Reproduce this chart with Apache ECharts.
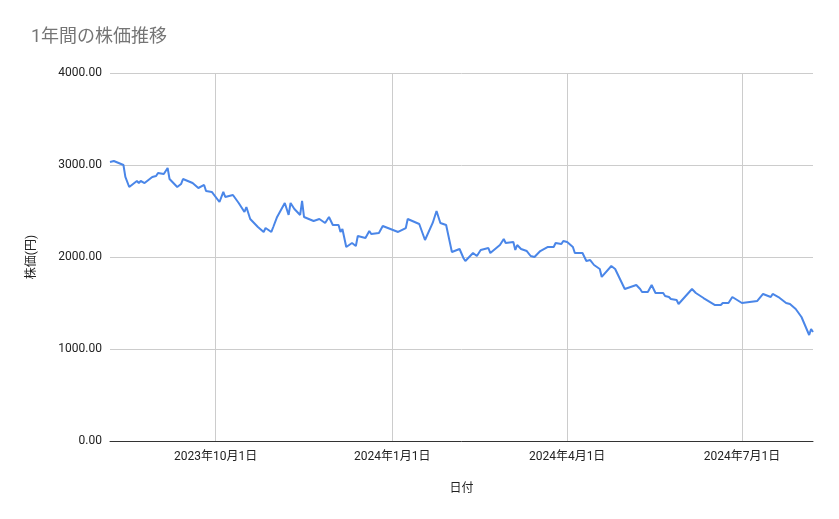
<!DOCTYPE html>
<html>
<head>
<meta charset="utf-8">
<script src="https://cdn.jsdelivr.net/npm/echarts@6/dist/echarts.min.js"></script>
<style>
html, body { margin: 0; padding: 0; background: #fff; }
#chart { width: 839px; height: 519px; }
</style>
</head>
<body>
<div id="chart"></div>
<script>
// 日付と終値
const dates = [
    '2023-08-07','2023-08-09','2023-08-14','2023-08-15','2023-08-17','2023-08-21','2023-08-22','2023-08-23','2023-08-25','2023-08-29',
    '2023-08-31','2023-09-01','2023-09-04','2023-09-06','2023-09-07','2023-09-11','2023-09-13','2023-09-14','2023-09-19','2023-09-22',
    '2023-09-25','2023-09-26','2023-09-29','2023-09-30','2023-10-03','2023-10-05','2023-10-06','2023-10-10','2023-10-13','2023-10-16',
    '2023-10-17','2023-10-19','2023-10-23','2023-10-26','2023-10-27','2023-10-30','2023-10-31','2023-11-02','2023-11-06','2023-11-08',
    '2023-11-09','2023-11-11','2023-11-14','2023-11-15','2023-11-16','2023-11-21','2023-11-24','2023-11-27','2023-11-29','2023-12-01',
    '2023-12-04','2023-12-05','2023-12-06','2023-12-08','2023-12-11','2023-12-13','2023-12-14','2023-12-18','2023-12-20','2023-12-21',
    '2023-12-25','2023-12-27','2024-01-04','2024-01-08','2024-01-09','2024-01-15','2024-01-18','2024-01-22','2024-01-24','2024-01-26',
    '2024-01-29','2024-01-30','2024-02-01','2024-02-05','2024-02-07','2024-02-08','2024-02-12','2024-02-14','2024-02-16','2024-02-20',
    '2024-02-21','2024-02-26','2024-02-28','2024-02-29','2024-03-04','2024-03-05','2024-03-06','2024-03-08','2024-03-11','2024-03-13',
    '2024-03-15','2024-03-18','2024-03-22','2024-03-25','2024-03-26','2024-03-29','2024-03-30','2024-04-01','2024-04-04','2024-04-05',
    '2024-04-09','2024-04-11','2024-04-13','2024-04-15','2024-04-18','2024-04-19','2024-04-24','2024-04-26','2024-05-01','2024-05-07',
    '2024-05-09','2024-05-10','2024-05-13','2024-05-15','2024-05-17','2024-05-21','2024-05-22','2024-05-24','2024-05-25','2024-05-28',
    '2024-05-29','2024-06-05','2024-06-07','2024-06-11','2024-06-17','2024-06-20','2024-06-21','2024-06-24','2024-06-26','2024-07-01',
    '2024-07-05','2024-07-09','2024-07-10','2024-07-12','2024-07-16','2024-07-17','2024-07-20','2024-07-24','2024-07-26','2024-07-29',
    '2024-07-30','2024-08-01','2024-08-05','2024-08-06','2024-08-07'
];
const prices = [
    3033,3043,3000,2870,2761,2826,2804,2826,2804,2870,
    2880,2913,2902,2967,2848,2761,2793,2848,2804,2750,
    2783,2717,2707,2696,2598,2707,2652,2674,2587,2489,
    2543,2413,2326,2272,2315,2272,2326,2435,2587,2457,
    2587,2522,2457,2609,2435,2391,2413,2370,2435,2348,
    2348,2272,2304,2109,2152,2120,2228,2207,2283,2250,
    2261,2337,2272,2315,2413,2359,2185,2370,2500,2370,
    2348,2359,2054,2087,1989,1957,2043,2011,2076,2098,
    2043,2130,2196,2152,2163,2076,2130,2087,2065,2011,
    2000,2065,2109,2109,2152,2141,2174,2163,2109,2043,
    2043,1957,1967,1913,1870,1783,1902,1870,1652,1696,
    1652,1620,1620,1696,1609,1609,1576,1565,1543,1533,
    1489,1652,1609,1554,1478,1478,1500,1500,1565,1500,
    1511,1522,1511,1598,1565,1598,1565,1500,1489,1435,
    1424,1348,1152,1217,1185
];
// 横軸の目盛り
const xTicks = ['2023-10-01','2024-01-01','2024-04-01','2024-07-01'];
const xMin = '2023-08-07';
const xMax = '2024-08-07';

const FONT = 'Roboto, "Noto Sans CJK JP", sans-serif';
const toMs = d => +new Date(d + 'T00:00:00');
const fmtDate = v => {
    const d = new Date(v);
    return d.getFullYear() + '年' + (d.getMonth() + 1) + '月' + d.getDate() + '日';
};

let chart = echarts.init(document.getElementById('chart'));
chart.setOption({
    animation: false,
    title: {
        text: '1年間の株価推移',
        left: 26, top: 24,
        textStyle: { fontFamily: FONT, fontSize: 18, fontWeight: 'normal', color: '#757575' }
    },
    grid: { left: 110, right: 26, top: 73, bottom: 78 },
    xAxis: {
        type: 'value',
        min: toMs(xMin),
        max: toMs(xMax),
        name: '日付',
        nameLocation: 'middle',
        nameGap: 42,
        nameTextStyle: { fontFamily: FONT, fontSize: 12, color: '#222' },
        axisLine: { show: true, onZero: false, lineStyle: { color: '#333' } },
        axisTick: { show: false },
        splitLine: { show: false },
        axisLabel: { show: false }
    },
    yAxis: {
        type: 'value',
        min: 0, max: 4000, interval: 1000,
        name: '株価(円)',
        nameLocation: 'middle',
        nameGap: 72,
        nameTextStyle: { fontFamily: FONT, fontSize: 12, color: '#222' },
        axisLine: { show: false },
        axisTick: { show: false },
        splitLine: { lineStyle: { color: '#cccccc' } },
        axisLabel: { fontFamily: FONT, fontSize: 12, color: '#222', margin: 8, formatter: v => v.toFixed(2) }
    },
    series: [{
        type: 'line',
        data: dates.map((d, i) => [toMs(d), prices[i]]),
        showSymbol: false,
        z: 3,
        lineStyle: { color: '#4a86e8', width: 2 },
        itemStyle: { color: '#4a86e8' },
        markLine: {
            silent: true,
            symbol: 'none',
            z: 1,
            label: {
                show: true, position: 'start', distance: 10,
                fontFamily: FONT, fontSize: 12, color: '#222',
                formatter: p => fmtDate(p.value)
            },
            lineStyle: { color: '#cccccc', type: 'solid', width: 1 },
            data: xTicks.map(t => ({ xAxis: toMs(t) }))
        }
    }]
});
</script>
</body>
</html>
